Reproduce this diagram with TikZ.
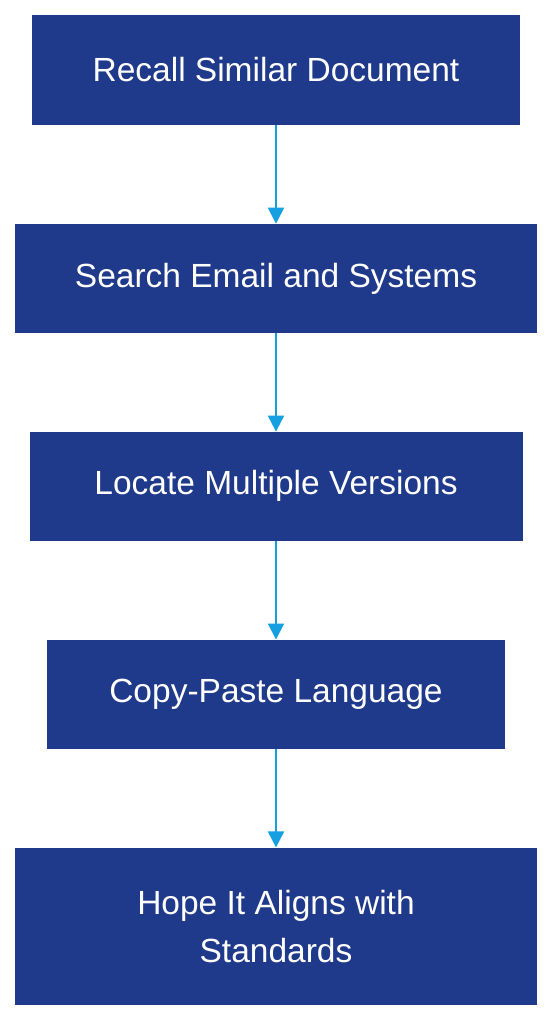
\documentclass[tikz,border=0pt]{standalone}
\usepackage{fontspec}
\setmainfont{Liberation Sans}
\usetikzlibrary{positioning,arrows.meta}
\definecolor{stepblue}{RGB}{31,58,138}
\definecolor{linkcyan}{RGB}{22,160,226}

\begin{document}
\begin{tikzpicture}[
  x=1pt, y=1pt,
  font=\fontsize{33.5}{48}\selectfont,
  node distance=98.5pt,
  stepbox/.style={fill=stepblue, text=white, inner sep=0pt,
                  minimum height=109pt, align=center},
  arr/.style={-{Triangle[width=16pt,length=16pt]}, line width=2pt, linkcyan},
]
\useasboundingbox (0,0) rectangle (552,-1020);

% ---- Steps ----
\node[stepbox, minimum width=488pt, minimum height=110pt] (recall) at (276,-70) {Recall Similar Document};
\node[stepbox, minimum width=522pt, below=of recall] (search) {Search Email and Systems};
\node[stepbox, minimum width=493pt, below=of search] (locate) {Locate Multiple Versions};
\node[stepbox, minimum width=458pt, below=of locate] (copy) {Copy-Paste Language};
\node[stepbox, minimum width=522pt, minimum height=157pt, below=of copy] (hope)
  {Hope It Aligns with\\Standards};

% Arrows between steps
\draw[arr] (recall.south) -- (search.north);
\draw[arr] (search.south) -- (locate.north);
\draw[arr] (locate.south) -- (copy.north);
\draw[arr] (copy.south) -- (hope.north);

\end{tikzpicture}
\end{document}
